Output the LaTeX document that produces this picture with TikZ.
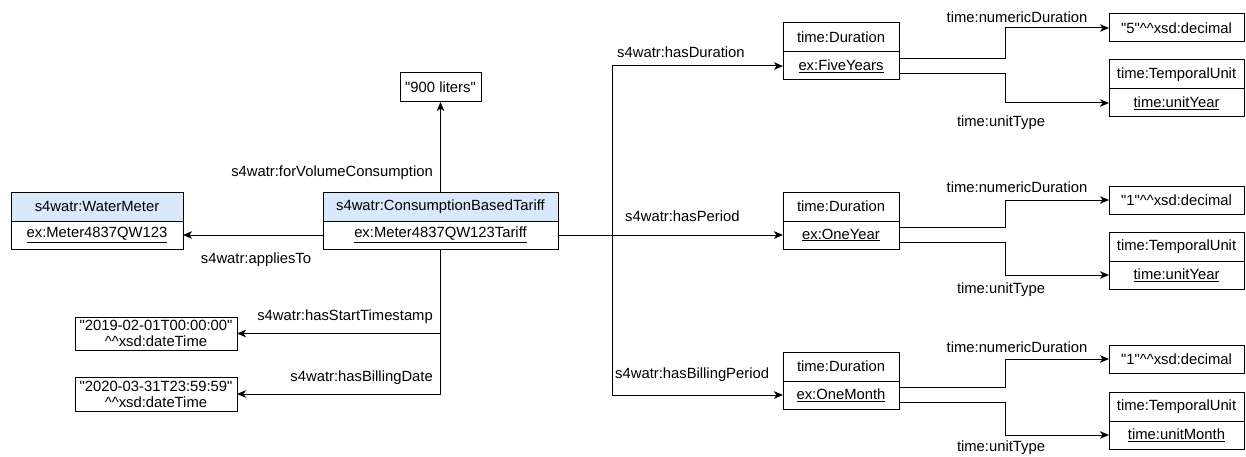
\documentclass[tikz,border=0pt]{standalone}
\usepackage{fontspec}
\setmainfont{Liberation Sans}[Ligatures=TeXOff]
\usetikzlibrary{arrows.meta}
\definecolor{hdrblue}{HTML}{DAE8FC}
\newcommand{\fsz}{\fontsize{14.8}{16}\selectfont}
\newcommand{\ca}{\textasciicircum\textasciicircum}
\tikzset{
  box/.style={draw=black, line width=1pt, inner sep=0pt, outer sep=0pt, font=\fsz, anchor=north west, align=center},
  hdr/.style={box, fill=hdrblue},
  conn/.style={line width=1pt, -{Stealth[length=9pt,width=7.5pt,inset=2.5pt]}},
  lbl/.style={font=\fsz, inner sep=0pt},
}
\begin{document}
\begin{tikzpicture}[x=1pt,y=-1pt]
\useasboundingbox (0,0) rectangle (1246,457);

% left part
\node[hdr, minimum width=172pt, minimum height=29pt] (wmH) at (11,192) {s4watr:WaterMeter};
\node[box, minimum width=172pt, minimum height=28pt] (wmB) at (11,221) {\underline{ex:Meter4837QW123}};

\node[hdr, minimum width=235pt, minimum height=29pt] (tarH) at (323,192) {s4watr:ConsumptionBasedTariff};
\node[box, minimum width=235pt, minimum height=28pt] (tarB) at (323,221) {\underline{ex:Meter4837QW123Tariff}};

\node[box, anchor=center, minimum width=81pt, minimum height=29pt] (lit900) at (440.5,87.5) {"900 liters"};

\node[box, minimum width=162pt, minimum height=33pt] (startLit) at (75,317) {"2019-02-01T00:00:00"\\\ca xsd:dateTime};
\node[box, minimum width=162pt, minimum height=34pt] (billLit) at (75,377) {"2020-03-31T23:59:59"\\\ca xsd:dateTime};

% duration boxes
\node[box, minimum width=116pt, minimum height=29pt] (d1H) at (783,23) {time:Duration};
\node[box, minimum width=116pt, minimum height=28pt] (d1B) at (783,52) {\underline{ex:FiveYears}};
\node[box, minimum width=116pt, minimum height=29pt] (d2H) at (783,192) {time:Duration};
\node[box, minimum width=116pt, minimum height=28pt] (d2B) at (783,221) {\underline{ex:OneYear}};
\node[box, minimum width=116pt, minimum height=29pt] (d3H) at (783,352) {time:Duration};
\node[box, minimum width=116pt, minimum height=28pt] (d3B) at (783,381) {\underline{ex:OneMonth}};

% numeric literals
\node[box, minimum width=135pt, minimum height=28pt] (n1) at (1109,14) {"5"\ca xsd:decimal};
\node[box, minimum width=135pt, minimum height=28pt] (n2) at (1109,186) {"1"\ca xsd:decimal};
\node[box, minimum width=135pt, minimum height=28pt] (n3) at (1109,345) {"1"\ca xsd:decimal};

% temporal units
\node[box, minimum width=135pt, minimum height=29pt] (t1H) at (1109,60) {time:TemporalUnit};
\node[box, minimum width=135pt, minimum height=28pt] (t1B) at (1109,89) {\underline{time:unitYear}};
\node[box, minimum width=135pt, minimum height=29pt] (t2H) at (1109,232) {time:TemporalUnit};
\node[box, minimum width=135pt, minimum height=28pt] (t2B) at (1109,261) {\underline{time:unitYear}};
\node[box, minimum width=135pt, minimum height=29pt] (t3H) at (1109,392) {time:TemporalUnit};
\node[box, minimum width=135pt, minimum height=28pt] (t3B) at (1109,421) {\underline{time:unitMonth}};

% connectors left
\draw[conn] (tarB.west) -- (wmB.east);
\draw[conn] (tarH.north) -- (lit900.south);
\draw[conn] (tarB.south) |- (startLit.east);
\draw[conn] (tarB.south) |- (billLit.east);

% connectors right
\path (tarB.east) ++(54,0) coordinate (jr);
\draw[conn] (tarB.east) -- (jr) |- (d1B.west);
\draw[conn] (tarB.east) -- (d2B.west);
\draw[conn] (tarB.east) -- (jr) |- (d3B.west);

\foreach \i in {1,2,3}{
  \draw[conn] ([yshift=7.5pt]d\i B.east) -- ++(106,0) |- (n\i.west);
  \draw[conn] ([yshift=-7.5pt]d\i B.east) -- ++(106,0) |- (t\i B.west);
}

% labels
\node[lbl] (lApp) at (256,260) {s4watr:appliesTo};
\node[lbl, anchor=east] (lVol) at (433,173) {s4watr:forVolumeConsumption};
\node[lbl, anchor=east] (lStart) at (433,317) {s4watr:hasStartTimestamp};
\node[lbl, anchor=east] (lBill) at (433,378) {s4watr:hasBillingDate};
\node[lbl, anchor=west] (lDur) at (617,52) {s4watr:hasDuration};
\node[lbl, anchor=west] (lPer) at (625,216) {s4watr:hasPeriod};
\node[lbl, anchor=west] (lBP) at (615,375) {s4watr:hasBillingPeriod};
\node[lbl] (lN1) at (1017,17) {time:numericDuration};
\node[lbl] (lN2) at (1017,187) {time:numericDuration};
\node[lbl] (lN3) at (1017,347) {time:numericDuration};
\node[lbl] (lU1) at (1001,123) {time:unitType};
\node[lbl] (lU2) at (1001,290) {time:unitType};
\node[lbl] (lU3) at (1001,448) {time:unitType};
\end{tikzpicture}
\end{document}
